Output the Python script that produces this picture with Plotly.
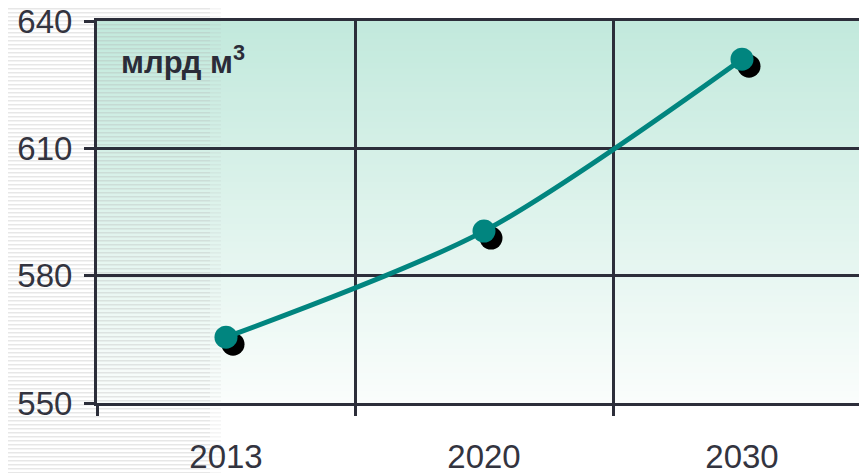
import plotly.graph_objects as go

years = ["2013", "2020", "2030"]
volume = [565.5, 590.5, 631.0]
y_ticks = [550, 580, 610, 640]
unit_label = "млрд м<sup>3</sup>"

# page body has an 8px margin, so the figure is sized/positioned to compensate
OFF = 8
W, H = 871 - OFF, 473 - OFF
ML, MR, MT, MB = 97 - OFF, 0, 21 - OFF, 70
PW, PH = W - ML - MR, H - MT - MB
Y0, Y1 = 550, 640
X0, X1 = -0.5, 2.5

SH = 7
dx = SH * (X1 - X0) / PW
dy = SH * (Y1 - Y0) / PH

AX = "#2c2e3a"
TEAL = "#01857f"

fig = go.Figure()

fig.add_trace(go.Scatter(
    x=years, y=volume, mode="markers", xaxis="x", yaxis="y",
    marker=dict(size=23, color="black"), hoverinfo="skip", showlegend=False))

fig.add_trace(go.Scatter(
    x=years, y=volume, mode="lines+markers", xaxis="x2", yaxis="y2",
    line=dict(color=TEAL, width=5, shape="spline", smoothing=0.8),
    marker=dict(size=23, color=TEAL), showlegend=False))

shapes = []
def lerp(c1, c2, t):
    return tuple(round(a + (b - a) * t) for a, b in zip(c1, c2))
top = (194, 233, 220)
mid = (222, 243, 236)
bot = (250, 253, 252)
N = 64
for i in range(N):
    t = i / (N - 1)
    c = lerp(top, mid, t * 2) if t < 0.5 else lerp(mid, bot, (t - 0.5) * 2)
    y_hi = 1 - i / N
    y_lo = 1 - (i + 1) / N
    shapes.append(dict(type="rect", xref="paper", yref="paper",
                       x0=0, x1=1, y0=y_lo - 0.002, y1=y_hi,
                       fillcolor="rgb(%d,%d,%d)" % c, line=dict(width=0), layer="below"))

# pixel (in screenshot coords) -> paper coords
px2x = lambda px: (px - OFF - ML) / PW
py2y = lambda py: (H - MB - (py - OFF)) / PH
period = 4
for k in range(0, 473 // period + 1):
    ytop = k * period
    shapes.append(dict(type="rect", xref="paper", yref="paper",
                       x0=px2x(0), x1=px2x(210), y0=py2y(ytop + 1.6), y1=py2y(ytop),
                       fillcolor="rgba(175,175,175,0.3)", line=dict(width=0), layer="below"))
    shapes.append(dict(type="rect", xref="paper", yref="paper",
                       x0=px2x(210), x1=px2x(221), y0=py2y(ytop + 1.6), y1=py2y(ytop),
                       fillcolor="rgba(175,175,175,0.12)", line=dict(width=0), layer="below"))

tick_font = dict(family="Liberation Sans, Arial", size=33, color="#33343f")

fig.update_layout(
    width=W, height=H,
    margin=dict(l=ML, r=MR, t=MT, b=MB, autoexpand=False),
    paper_bgcolor="white", plot_bgcolor="rgba(0,0,0,0)",
    shapes=shapes,
    xaxis=dict(type="category", range=[X0 - dx, X1 - dx], visible=False,
               categoryorder="array", categoryarray=years, automargin=False),
    yaxis=dict(range=[Y0 + dy, Y1 + dy], visible=False, automargin=False),
    xaxis2=dict(type="category", overlaying="x", range=[X0, X1],
                categoryorder="array", categoryarray=years,
                tickson="boundaries", ticks="outside", ticklen=10, tickwidth=3,
                tickcolor=AX, showgrid=True, gridcolor=AX, gridwidth=2.5,
                showline=True, linecolor=AX, linewidth=3, mirror=True,
                tickfont=tick_font, ticklabelstandoff=22, anchor="y2",
                automargin=False),
    yaxis2=dict(overlaying="y", range=[Y0, Y1], tickvals=y_ticks,
                ticks="outside", ticklen=10, tickwidth=3, tickcolor=AX,
                showgrid=True, gridcolor=AX, gridwidth=2.5,
                showline=True, linecolor=AX, linewidth=3, zeroline=False,
                tickfont=tick_font, ticklabelstandoff=5, anchor="x2", side="left",
                ticklabeloverflow="allow", automargin=False),
    annotations=[dict(text="<b>" + unit_label + "</b>", xref="paper", yref="paper",
                      x=px2x(119), y=py2y(60), xanchor="left", yanchor="middle",
                      showarrow=False,
                      font=dict(family="Liberation Sans, Arial", size=31, color="#2b2c38"))],
)

fig.write_html("out.html")
